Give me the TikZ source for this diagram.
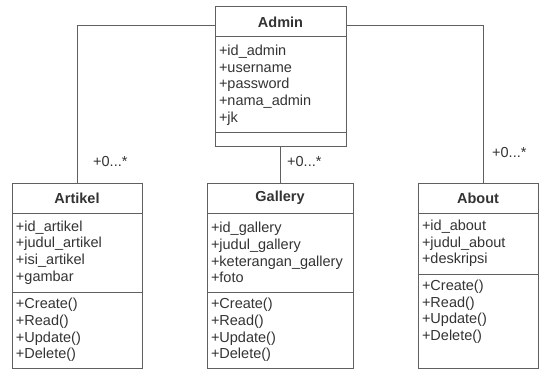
\documentclass[tikz,border=0pt]{standalone}
\usepackage{fontspec}
\setmainfont{Liberation Sans}
\usepackage{xcolor}
\usepackage{tikz}
\usetikzlibrary{positioning}

\definecolor{umlline}{HTML}{606060}
\definecolor{umltext}{HTML}{333333}

\begin{document}
\begin{tikzpicture}[
    x=1pt, y=1pt,
    every node/.style={font=\fontsize{14.5}{16.7}\selectfont, text=umltext},
    classhead/.style={rectangle, draw=umlline, line width=1pt, outer sep=0pt, minimum height=30pt, anchor=north west, font=\fontsize{14.5}{16.7}\selectfont\bfseries},
    classsec/.style={rectangle, draw=umlline, line width=1pt, outer sep=0pt, align=left, inner xsep=4pt, inner ysep=0pt},
    link/.style={draw=umlline, line width=1pt},
    mult/.style={inner sep=0pt}
]
\useasboundingbox (0,0) rectangle (539,-369);

% Admin
\node[classhead, minimum width=131pt] (admin) at (215,-7) {Admin};
\node[classsec, text width=123pt, minimum height=96pt, below=0pt of admin] (admin_attr) {+id\_admin\\+username\\+password\\+nama\_admin\\+jk};
\node[classsec, text width=123pt, minimum height=14pt, below=0pt of admin_attr] (admin_meth) {};

% Artikel
\node[classhead, minimum width=130pt] (artikel) at (12,-183) {Artikel};
\node[classsec, text width=122pt, minimum height=79pt, below=0pt of artikel] (artikel_attr) {+id\_artikel\\+judul\_artikel\\+isi\_artikel\\+gambar};
\node[classsec, text width=122pt, minimum height=76pt, below=0pt of artikel_attr] (artikel_meth) {+Create()\\+Read()\\+Update()\\+Delete()};

% Gallery
\node[classhead, minimum width=146pt] (gallery) at (207,-183) {Gallery};
\node[classsec, text width=138pt, minimum height=79pt, below=0pt of gallery] (gallery_attr) {+id\_gallery\\+judul\_gallery\\+keterangan\_gallery\\+foto};
\node[classsec, text width=138pt, minimum height=76pt, below=0pt of gallery_attr] (gallery_meth) {+Create()\\+Read()\\+Update()\\+Delete()};

% About
\node[classhead, minimum width=120pt] (about) at (418,-183) {About};
\node[classsec, text width=112pt, minimum height=61pt, below=0pt of about] (about_attr) {+id\_about\\+judul\_about\\+deskripsi};
\node[classsec, text width=112pt, inner ysep=6pt, text depth=72pt, below=0pt of about_attr] (about_meth) {+Create()\\+Read()\\+Update()\\+Delete()};

% Associations
\draw[link] ([yshift=-4pt]admin.west) -| (artikel.north);
\draw[link] ([yshift=-4pt]admin.east) -| ([xshift=5pt]about.north);
\draw[link] (admin_meth.south) -- (admin_meth.south |- gallery.north);

% Multiplicities
\node[mult, above right=16pt and 16pt of artikel.north] {+0...*};
\node[mult, above right=16pt and 7pt of gallery.north] {+0...*};
\node[mult, above right=25pt and 14pt of about.north] {+0...*};
\end{tikzpicture}
\end{document}
